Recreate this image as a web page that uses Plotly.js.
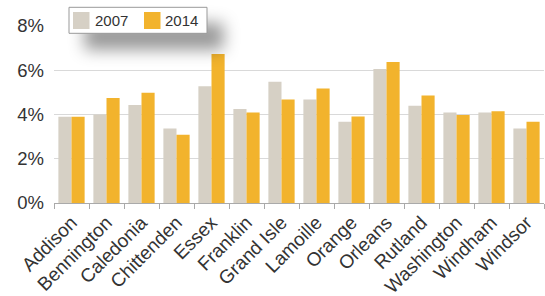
<!DOCTYPE html>
<html><head><meta charset="utf-8">
<script src="https://cdn.plot.ly/plotly-3.0.1.min.js"></script>
<style>
html,body{margin:0;padding:0;background:#fff;}
#chart{width:545px;height:296px;}
.shapelayer path[data-index="0"]{filter:drop-shadow(16px 16px 8px rgba(0,0,0,0.4));}
</style>
</head><body>
<div id="chart"></div>
<script>
var counties = ["Addison","Bennington","Caledonia","Chittenden","Essex","Franklin","Grand Isle","Lamoille","Orange","Orleans","Rutland","Washington","Windham","Windsor"];
var seriesNames = ["2007","2014"];
var values2007 = [3.9,4.0,4.43,3.37,5.28,4.25,5.48,4.68,3.67,6.06,4.39,4.09,4.09,3.37];
var values2014 = [3.9,4.75,4.98,3.08,6.73,4.09,4.68,5.17,3.91,6.37,4.86,3.98,4.15,3.67];
var yTicks = [0,2,4,6,8];
var yTickText = ["0%","2%","4%","6%","8%"];
var colors = ["#d6d0c5","#f2b32d"];

var traces = [
  {type:"bar", name:seriesNames[0], x:counties, y:values2007, marker:{color:colors[0]}},
  {type:"bar", name:seriesNames[1], x:counties, y:values2014, marker:{color:colors[1]}}
];

// custom legend (box + swatches + labels) placed in paper coordinates
var L = 54, W = 490, T = 26, H = 177;
function px(x){return (x-L)/W;}
function py(y){return (T+H-y)/H;}
var shapes = [
  {type:"rect", xref:"paper", yref:"paper", x0:px(69), x1:px(207), y0:py(33.3), y1:py(7.3),
   fillcolor:"#fff", line:{color:"#999", width:1}, layer:"above"}
];
var annotations = [];
var swX = [73, 144], txX = [93, 163];
for (var i=0;i<seriesNames.length;i++){
  shapes.push({type:"rect", xref:"paper", yref:"paper", x0:px(swX[i]), x1:px(swX[i]+16.5),
    y0:py(29), y1:py(12), fillcolor:colors[i], line:{color:colors[i], width:0}, layer:"above"});
  annotations.push({xref:"paper", yref:"paper", x:px(txX[i]), y:py(20.5), xanchor:"left", yanchor:"middle",
    text:seriesNames[i], showarrow:false, font:{size:15, color:"#333"}});
}

var layout = {
  width:545, height:296,
  margin:{l:L, r:1, t:T, b:93},
  paper_bgcolor:"#fff", plot_bgcolor:"#fff",
  font:{family:"Liberation Sans, Arial, sans-serif", color:"#333", size:17},
  barmode:"group", bargap:0.25, bargroupgap:0,
  showlegend:false,
  shapes:shapes, annotations:annotations,
  xaxis:{type:"category", tickangle:-45, tickson:"boundaries", ticks:"outside", ticklen:5,
    tickcolor:"#aaa", showline:true, linecolor:"#aaa", linewidth:1, showgrid:false,
    tickfont:{size:19, color:"#333"}, automargin:false},
  yaxis:{range:[0,8], tickvals:yTicks, ticktext:yTickText, showgrid:true, gridcolor:"#d9d9d9",
    gridwidth:1, zeroline:false, showline:false, ticks:"", tickfont:{size:18.5, color:"#333"},
    automargin:false, ticklabelstandoff:9}
};
Plotly.newPlot("chart", traces, layout, {displayModeBar:false, staticPlot:true});
</script>
</body></html>
